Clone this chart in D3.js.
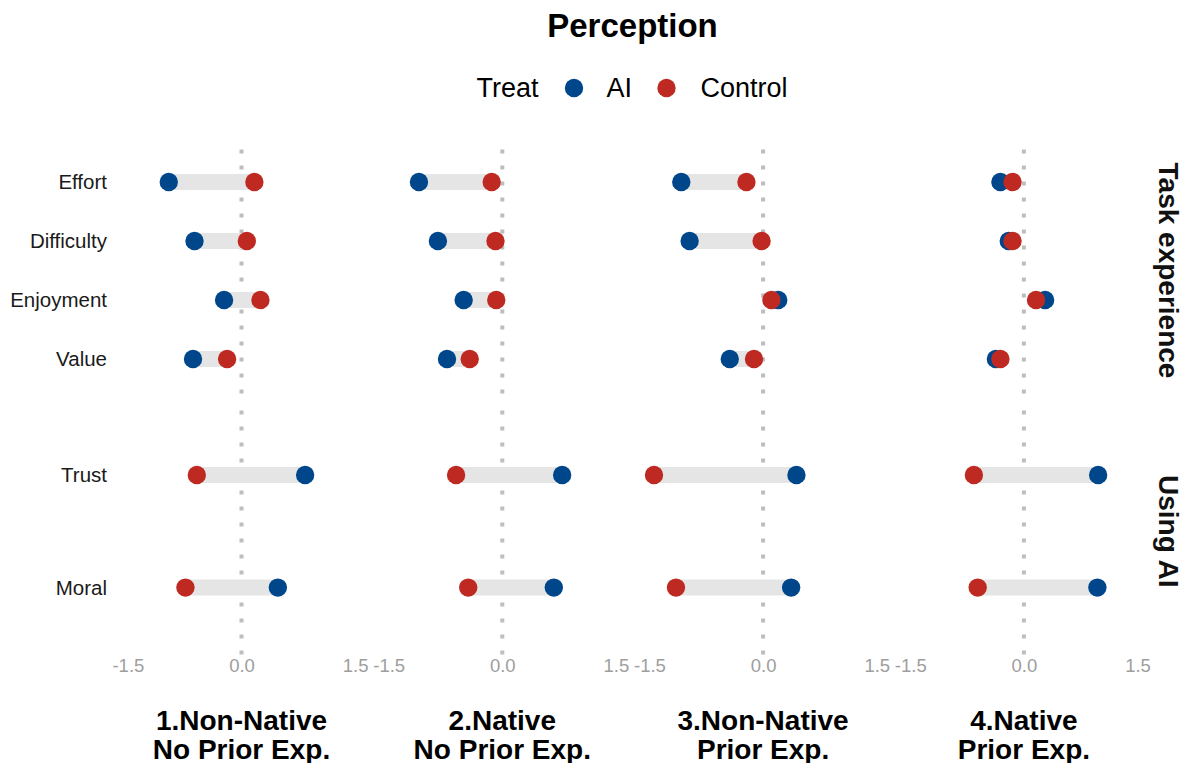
<!DOCTYPE html>
<html>
<head>
<meta charset="utf-8">
<script src="https://cdn.jsdelivr.net/npm/d3@7"></script>
<style>
  html, body { margin: 0; padding: 0; background: #ffffff; }
  svg { display: block; font-family: "Liberation Sans", Arial, Helvetica, sans-serif; }
</style>
</head>
<body>
<svg id="chart" width="1192" height="763"></svg>
<script>
// Perception measures: mean scores for AI vs Control per participant group
const panels = [
  ["1.Non-Native", "No Prior Exp."],
  ["2.Native", "No Prior Exp."],
  ["3.Non-Native", "Prior Exp."],
  ["4.Native", "Prior Exp."]
];
const facetRows = ["Task experience", "Using AI"];
const taskMeasures = ["Effort", "Difficulty", "Enjoyment", "Value"];
const aiMeasures = ["Trust", "Moral"];
const measures = taskMeasures.concat(aiMeasures);

// One array per panel, in the order of `measures`
const aiValues = [
  [-0.96, -0.62, -0.23, -0.64, 0.84, 0.48],
  [-1.10, -0.85, -0.51, -0.73, 0.79, 0.68],
  [-1.08, -0.97, 0.20, -0.44, 0.44, 0.37],
  [-0.31, -0.20, 0.28, -0.37, 0.98, 0.97]
];
const controlValues = [
  [0.17, 0.07, 0.25, -0.19, -0.59, -0.74],
  [-0.14, -0.09, -0.08, -0.43, -0.61, -0.45],
  [-0.22, -0.02, 0.11, -0.12, -1.44, -1.15],
  [-0.15, -0.15, 0.16, -0.31, -0.66, -0.61]
];

const treatLevels = ["AI", "Control"];
const treatColors = ["#00468B", "#BE2A22"];
const tickValues = [-1.5, 0, 1.5];
const tickLabels = ["-1.5", "0.0", "1.5"];

// Layout
const svg = d3.select("#chart");
const panelLeft = 116.5, panelWidth = 250, panelStep = 260.8;
const rowTops = [146.6, 407.4], rowHeight = 247.8;
const dotR = 9.2, barWidth = 16;
const colorScale = d3.scaleOrdinal().domain(treatLevels).range(treatColors);

// Title
svg.append("text")
  .attr("x", 632.5).attr("y", 37)
  .attr("text-anchor", "middle")
  .attr("font-size", 33).attr("font-weight", "bold")
  .attr("fill", "#000")
  .text("Perception");

// Legend
const legend = svg.append("g").attr("font-size", 27).attr("fill", "#000");
legend.append("text").attr("x", 476.5).attr("y", 97).text("Treat");
const legendKeys = [{ cx: 574, tx: 606.5 }, { cx: 666.5, tx: 700.5 }];
treatLevels.forEach((t, i) => {
  legend.append("circle").attr("cx", legendKeys[i].cx).attr("cy", 88)
    .attr("r", dotR).attr("fill", colorScale(t));
  legend.append("text").attr("x", legendKeys[i].tx).attr("y", 97).text(t);
});

// Rows of the facet grid
const rowMeasures = [taskMeasures, aiMeasures];
const yScales = rowMeasures.map((m, r) =>
  d3.scalePoint().domain(m).range([rowTops[r], rowTops[r] + rowHeight]).padding(0.6)
);

panels.forEach((panelLabel, p) => {
  const left = panelLeft + p * panelStep;
  const x = d3.scaleLinear().domain([-1.65, 1.65]).range([left, left + panelWidth]);

  rowMeasures.forEach((ms, r) => {
    const y = yScales[r];
    const g = svg.append("g");

    // zero reference line
    g.append("line")
      .attr("x1", x(0)).attr("x2", x(0))
      .attr("y1", rowTops[r]).attr("y2", rowTops[r] + rowHeight)
      .attr("stroke", "#bdbdbd").attr("stroke-width", 4)
      .attr("stroke-dasharray", "4,12").attr("stroke-dashoffset", -3);

    const rows = ms.map(m => {
      const k = measures.indexOf(m);
      return { m, ai: aiValues[p][k], ctrl: controlValues[p][k] };
    });

    // connecting bars
    g.selectAll("line.bar").data(rows).enter().append("line")
      .attr("class", "bar")
      .attr("x1", d => x(d.ai)).attr("x2", d => x(d.ctrl))
      .attr("y1", d => y(d.m)).attr("y2", d => y(d.m))
      .attr("stroke", "#e5e5e5").attr("stroke-width", barWidth);

    // AI points, then Control points on top
    g.selectAll("circle.ai").data(rows).enter().append("circle")
      .attr("class", "ai")
      .attr("cx", d => x(d.ai)).attr("cy", d => y(d.m)).attr("r", dotR)
      .attr("fill", colorScale("AI"));
    g.selectAll("circle.ctrl").data(rows).enter().append("circle")
      .attr("class", "ctrl")
      .attr("cx", d => x(d.ctrl)).attr("cy", d => y(d.m)).attr("r", dotR)
      .attr("fill", colorScale("Control"));

    // y axis on the first column only
    if (p === 0) {
      const ya = svg.append("g")
        .attr("transform", `translate(${left},0)`)
        .call(d3.axisLeft(y).tickSize(0).tickPadding(9.5));
      ya.select(".domain").remove();
      ya.selectAll("text")
        .attr("font-size", 20.5).attr("fill", "#1a1a1a")
        .attr("font-family", "Liberation Sans, Arial, sans-serif");
    }
  });

  // x axis below the bottom row
  const bottom = rowTops[1] + rowHeight;
  const xa = svg.append("g")
    .attr("transform", `translate(0,${bottom})`)
    .call(d3.axisBottom(x).tickValues(tickValues).tickSize(0).tickPadding(3.5)
      .tickFormat((d, i) => tickLabels[i]));
  xa.select(".domain").remove();
  xa.selectAll("text")
    .attr("font-size", 18.5).attr("fill", "#9e9e9e")
    .attr("font-family", "Liberation Sans, Arial, sans-serif");

  // bottom strip label
  const strip = svg.append("text")
    .attr("text-anchor", "middle")
    .attr("font-size", 28).attr("font-weight", "bold").attr("fill", "#000");
  panelLabel.forEach((line, li) => {
    strip.append("tspan").attr("x", x(0)).attr("y", 730 + li * 28.5).text(line);
  });
});

// Right strip labels
facetRows.forEach((label, r) => {
  const cy = rowTops[r] + rowHeight / 2;
  svg.append("text")
    .attr("transform", `translate(1168,${cy}) rotate(90)`)
    .attr("text-anchor", "middle")
    .attr("dominant-baseline", "central")
    .attr("font-size", 28).attr("font-weight", "bold").attr("fill", "#111")
    .text(label);
});
</script>
</body>
</html>
